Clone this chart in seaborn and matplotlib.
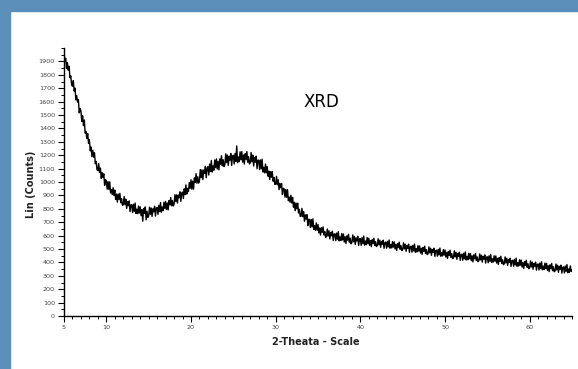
import numpy as np
import pandas as pd
import matplotlib
matplotlib.use("Agg")
import matplotlib.pyplot as plt
from matplotlib.patches import Rectangle
from matplotlib.ticker import MultipleLocator, FixedLocator
import seaborn as sns

# 2-theta from 5 to 65 in 0.1 deg steps
two_theta = [round(5 + 0.1 * i, 1) for i in range(601)]

counts = [
    1985, 1899, 1923, 1847, 1891, 1835, 1864, 1778, 1792, 1726,   # 5
    1715, 1757, 1679, 1701, 1613, 1645, 1597, 1614, 1516, 1548,   # 6
    1530, 1452, 1494, 1421, 1463, 1365, 1377, 1324, 1361, 1288,   # 7
    1315, 1233, 1261, 1189, 1237, 1185, 1218, 1136, 1154, 1092,   # 8
    1085, 1138, 1071, 1104, 1027, 1070, 1033, 1061, 974, 1017,    # 9
    1010, 947, 1003, 945, 1001, 918, 944, 906, 957, 899,          # 10
    940, 870, 910, 850, 910, 870, 915, 845, 875, 825,             # 11
    830, 891, 831, 872, 802, 853, 823, 859, 779, 830,             # 12
    830, 772, 834, 781, 843, 765, 797, 764, 821, 768,             # 13
    815, 749, 793, 707, 801, 765, 814, 718, 782, 736,             # 14
    745, 812, 759, 806, 743, 800, 777, 819, 746, 803,             # 15
    810, 758, 826, 779, 847, 775, 813, 786, 849, 802,             # 16
    855, 794, 843, 792, 861, 830, 884, 823, 862, 821,             # 17
    835, 905, 854, 904, 843, 903, 882, 927, 856, 916,             # 18
    925, 877, 949, 906, 978, 910, 952, 929, 996, 953,             # 19
    1017, 946, 1006, 947, 1031, 996, 1062, 991, 1039, 992,        # 20
    1010, 1093, 1032, 1091, 1018, 1089, 1064, 1117, 1032, 1103,   # 21
    1114, 1052, 1134, 1078, 1160, 1074, 1120, 1088, 1164, 1108,   # 22
    1172, 1097, 1154, 1091, 1172, 1133, 1196, 1121, 1166, 1115,   # 23
    1130, 1210, 1145, 1201, 1124, 1192, 1163, 1213, 1124, 1192,   # 24
    1199, 1134, 1213, 1154, 1269, 1144, 1187, 1152, 1225, 1166,   # 25
    1227, 1148, 1201, 1134, 1211, 1168, 1227, 1148, 1189, 1134,   # 26
    1145, 1220, 1150, 1201, 1119, 1182, 1148, 1193, 1099, 1162,   # 27
    1164, 1092, 1164, 1098, 1170, 1074, 1110, 1068, 1134, 1068,   # 28
    1115, 1043, 1081, 1019, 1077, 1035, 1078, 1006, 1034, 982,    # 29
    985, 1042, 979, 1016, 943, 990, 957, 989, 906, 953,           # 30
    950, 887, 944, 886, 943, 860, 887, 849, 901, 843,             # 31
    885, 812, 849, 786, 843, 800, 842, 769, 796, 743,             # 32
    745, 803, 741, 779, 707, 755, 723, 756, 674, 722,             # 33
    720, 660, 720, 665, 725, 645, 675, 640, 695, 640,             # 34
    682, 620, 657, 604, 658, 624, 665, 604, 631, 587,             # 35
    593, 649, 597, 636, 575, 623, 599, 633, 563, 611,             # 36
    613, 562, 619, 573, 629, 561, 590, 563, 615, 568,             # 37
    612, 552, 592, 541, 598, 566, 610, 551, 581, 539,             # 38
    548, 605, 554, 594, 534, 583, 560, 595, 526, 575,             # 39
    578, 527, 585, 540, 597, 529, 559, 532, 586, 539,             # 40
    580, 527, 563, 518, 569, 541, 580, 527, 555, 518,             # 41
    525, 576, 531, 566, 513, 556, 535, 566, 505, 548,             # 42
    551, 506, 557, 516, 567, 506, 533, 508, 555, 514,             # 43
    553, 500, 535, 490, 541, 512, 551, 498, 525, 488,             # 44
    495, 546, 501, 536, 483, 526, 505, 536, 475, 518,             # 45
    521, 476, 527, 486, 537, 476, 503, 478, 525, 484,             # 46
    523, 470, 505, 460, 511, 482, 521, 468, 495, 458,             # 47
    465, 516, 471, 506, 453, 496, 475, 506, 445, 488,             # 48
    491, 446, 497, 456, 507, 446, 473, 448, 495, 454,             # 49
    493, 440, 475, 430, 481, 452, 491, 438, 465, 428,             # 50
    435, 486, 441, 476, 423, 466, 445, 476, 415, 458,             # 51
    461, 416, 468, 427, 478, 418, 445, 420, 468, 427,             # 52
    466, 413, 449, 404, 456, 427, 466, 414, 441, 405,             # 53
    412, 463, 419, 454, 402, 445, 424, 456, 395, 439,             # 54
    442, 397, 449, 408, 460, 399, 426, 402, 449, 409,             # 55
    448, 395, 430, 385, 436, 407, 446, 393, 420, 383,             # 56
    390, 441, 396, 431, 378, 421, 400, 431, 370, 413,             # 57
    416, 371, 422, 381, 432, 371, 398, 373, 420, 379,             # 58
    418, 365, 400, 355, 406, 377, 416, 363, 390, 353,             # 59
    360, 411, 366, 402, 349, 392, 371, 402, 342, 385,             # 60
    388, 343, 395, 354, 405, 345, 372, 347, 395, 354,             # 61
    393, 340, 375, 331, 382, 353, 392, 339, 367, 330,             # 62
    337, 388, 344, 379, 326, 370, 349, 380, 320, 363,             # 63
    366, 321, 373, 332, 384, 323, 351, 326, 374, 333,             # 64
    345,                                                          # 65
]

x_tick_labels = [5, 10, 20, 30, 40, 50, 60]
y_tick_labels = list(range(0, 2000, 100))

df = pd.DataFrame({"two_theta": two_theta, "counts": counts})

sns.set_style("ticks")
plt.rcParams["font.family"] = ["DejaVu Sans"]

fig = plt.figure(figsize=(5.78, 3.69), dpi=100)
fig.patch.set_facecolor("white")

# blue frame bands (top and left)
blue = "#5b8fb9"
fig.patches.append(Rectangle((0, 1 - 11 / 369), 1, 11 / 369, transform=fig.transFigure,
                             color=blue, zorder=0))
fig.patches.append(Rectangle((0, 0), 10 / 578, 1, transform=fig.transFigure,
                             color=blue, zorder=0))

ax = fig.add_axes([64 / 578, 53 / 369, 508 / 578, 268 / 369])
ax.set_facecolor("none")

sns.lineplot(data=df, x="two_theta", y="counts", ax=ax, color="black",
             linewidth=1.0, estimator=None)

ax.set_xlim(5, 65)
ax.set_ylim(0, 2000)

ax.xaxis.set_major_locator(FixedLocator(x_tick_labels))
ax.xaxis.set_minor_locator(MultipleLocator(1))
ax.yaxis.set_major_locator(FixedLocator(y_tick_labels))
ax.yaxis.set_minor_locator(MultipleLocator(50))

ax.tick_params(axis="both", which="major", length=4, width=0.8, labelsize=4.6,
               labelcolor="#444444", color="black", pad=2.5)
ax.tick_params(axis="both", which="minor", length=2, width=0.7, color="black")

for s in ["top", "right"]:
    ax.spines[s].set_visible(False)
for s in ["left", "bottom"]:
    ax.spines[s].set_linewidth(1.0)
    ax.spines[s].set_color("black")

ax.set_xlabel("2-Theata - Scale", fontsize=7, fontweight="bold", color="#222222")
ax.set_ylabel("Lin (Counts)", fontsize=7, fontweight="bold", color="#222222")
ax.xaxis.set_label_coords(0.496, -0.08)
ax.yaxis.set_label_coords(-0.055, 0.49)

ax.text(35.4, 1600, "XRD", fontsize=12, color="#000000",
        ha="center", va="center")

fig.savefig("out.png", dpi=100, facecolor="white")
